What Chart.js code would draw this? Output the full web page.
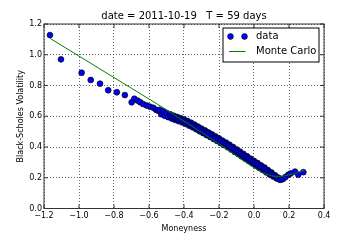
<!DOCTYPE html>
<html>
<head>
<meta charset="utf-8">
<script src="https://cdn.jsdelivr.net/npm/chart.js@4.4.0/dist/chart.umd.min.js"></script>
<style>
  html, body { margin: 0; padding: 0; background: #fff; }
  canvas { display: block; }
</style>
</head>
<body>
<canvas id="smileChart" width="360" height="240"></canvas>
<script>
// Implied vol smile
const titleText = 'date = 2011-10-19   T = 59 days';

const dataX = [
  -1.166, -1.103, -0.985, -0.933, -0.880, -0.833, -0.784, -0.738, -0.699, -0.684,
  -0.665, -0.650, -0.633, -0.613, -0.594, -0.575, -0.560, -0.548,
  -0.54, -0.53, -0.52, -0.51, -0.50, -0.49, -0.48, -0.47, -0.46, -0.45,
  -0.44, -0.43, -0.42, -0.41, -0.40, -0.39, -0.38, -0.37, -0.36, -0.35,
  -0.34, -0.33, -0.32, -0.31, -0.30, -0.29, -0.28, -0.27, -0.26, -0.25,
  -0.24, -0.23, -0.22, -0.21, -0.20, -0.19, -0.18, -0.17, -0.16, -0.15,
  -0.14, -0.13, -0.12, -0.11, -0.10, -0.09, -0.08, -0.07, -0.06, -0.05,
  -0.04, -0.03, -0.02, -0.01, 0.00, 0.01, 0.02, 0.03, 0.04, 0.05,
  0.06, 0.07, 0.08, 0.09, 0.10, 0.11, 0.12, 0.13, 0.14,
  // in-between strikes of the dense part
  -0.475, -0.465, -0.455, -0.445, -0.435, -0.425, -0.415, -0.405,
  -0.395, -0.385, -0.375, -0.365, -0.355, -0.345, -0.335, -0.325, -0.315, -0.305,
  -0.295, -0.285, -0.275, -0.265, -0.255, -0.245, -0.235, -0.225, -0.215, -0.205,
  -0.195, -0.185, -0.175, -0.165, -0.155, -0.145, -0.135, -0.125, -0.115, -0.105,
  -0.095, -0.085, -0.075, -0.065, -0.055, -0.045, -0.035, -0.025, -0.015, -0.005,
  0.005, 0.015, 0.025, 0.035, 0.045, 0.055, 0.065, 0.075, 0.085, 0.095,
  0.105, 0.115, 0.125, 0.135,
  0.149, 0.160, 0.167, 0.180, 0.196, 0.210, 0.234, 0.253, 0.282
];
const dataVol = [
  1.128, 0.970, 0.883, 0.836, 0.812, 0.769, 0.756, 0.738, 0.691, 0.714,
  0.702, 0.691, 0.679, 0.670, 0.662, 0.655, 0.642, 0.636,
  0.642, 0.613, 0.632, 0.603, 0.622, 0.594, 0.613, 0.585, 0.604, 0.576,
  0.596, 0.568, 0.588, 0.560, 0.580, 0.550, 0.569, 0.539, 0.558, 0.528,
  0.546, 0.515, 0.533, 0.502, 0.520, 0.490, 0.508, 0.477, 0.495, 0.465,
  0.482, 0.452, 0.469, 0.439, 0.456, 0.425, 0.442, 0.412, 0.429, 0.398,
  0.415, 0.383, 0.400, 0.368, 0.385, 0.354, 0.370, 0.339, 0.355, 0.324,
  0.340, 0.309, 0.325, 0.294, 0.310, 0.279, 0.296, 0.264, 0.281, 0.250,
  0.267, 0.235, 0.250, 0.221, 0.234, 0.208, 0.216, 0.195, 0.200,
  0.599, 0.594, 0.590, 0.586, 0.582, 0.578, 0.574, 0.570,
  0.565, 0.560, 0.554, 0.548, 0.543, 0.537, 0.530, 0.524, 0.518, 0.511,
  0.505, 0.499, 0.492, 0.486, 0.480, 0.474, 0.467, 0.460, 0.454, 0.448,
  0.440, 0.434, 0.427, 0.420, 0.414, 0.406, 0.399, 0.392, 0.384, 0.376,
  0.370, 0.362, 0.354, 0.347, 0.340, 0.332, 0.324, 0.317, 0.310, 0.302,
  0.294, 0.288, 0.280, 0.272, 0.266, 0.258, 0.251, 0.244, 0.236, 0.230,
  0.222, 0.214, 0.206, 0.200,
  0.186, 0.190, 0.193, 0.205, 0.220, 0.228, 0.240, 0.220, 0.236
];

const mcX = [-1.166, -0.700, -0.600, -0.500, -0.400, -0.300, -0.200, -0.100,
  0.000, 0.050, 0.100, 0.140, 0.180, 0.220, 0.260, 0.290];
const mcVol = [1.107, 0.782, 0.712, 0.642, 0.568, 0.495, 0.420, 0.342,
  0.265, 0.232, 0.212, 0.208, 0.213, 0.225, 0.239, 0.250];

const xTickValues = [-1.2, -1.0, -0.8, -0.6, -0.4, -0.2, 0.0, 0.2, 0.4];
const yTickValues = [0.0, 0.2, 0.4, 0.6, 0.8, 1.0, 1.2];

const FONT = "'DejaVu Sans', sans-serif";

function fmtTick(v) {
  let s = v.toFixed(1);
  if (s === '-0.0') s = '0.0';
  return s.replace('-', '\u2212');
}

// matplotlib-style frame, inward ticks on all four sides, title and the legend box
const framePlugin = {
  id: 'frame',
  afterDraw(chart) {
    const c = chart.ctx;
    const a = chart.chartArea;
    const xs = chart.scales.x, ys = chart.scales.y;
    c.save();
    c.strokeStyle = '#333';
    c.lineWidth = 1;
    c.strokeRect(a.left, a.top, a.right - a.left, a.bottom - a.top);
    const tl = 4;
    c.beginPath();
    xTickValues.forEach(v => {
      const px = xs.getPixelForValue(v);
      c.moveTo(px, a.bottom); c.lineTo(px, a.bottom - tl);
      c.moveTo(px, a.top); c.lineTo(px, a.top + tl);
    });
    yTickValues.forEach(v => {
      const py = ys.getPixelForValue(v);
      c.moveTo(a.left, py); c.lineTo(a.left + tl, py);
      c.moveTo(a.right, py); c.lineTo(a.right - tl, py);
    });
    c.stroke();

    // title centred over the axes
    c.fillStyle = '#000';
    c.font = '10px ' + FONT;
    c.textAlign = 'center';
    c.textBaseline = 'middle';
    c.fillText(titleText, (a.left + a.right) / 2, a.top - 8);

    // legend
    const bx = a.right - 101, by = a.top + 4, bw = 96, bh = 34;
    c.fillStyle = '#fff';
    c.fillRect(bx, by, bw, bh);
    c.strokeStyle = '#000';
    c.strokeRect(bx, by, bw, bh);
    const ds = chart.data.datasets;
    const row1 = by + 8.5, row2 = by + 23.5;
    c.fillStyle = '#0000ff';
    c.strokeStyle = '#000';
    c.lineWidth = 0.6;
    [bx + 7.5, bx + 21.5].forEach(mx => {
      c.beginPath();
      c.arc(mx, row1, 2.9, 0, Math.PI * 2);
      c.fill(); c.stroke();
    });
    c.strokeStyle = '#008000';
    c.lineWidth = 1;
    c.beginPath();
    c.moveTo(bx + 6, row2); c.lineTo(bx + 22.5, row2);
    c.stroke();
    c.fillStyle = '#000';
    c.font = '10px ' + FONT;
    c.textBaseline = 'middle';
    c.textAlign = 'left';
    c.fillText(ds[0].label, bx + 33, row1);
    c.fillText(ds[1].label, bx + 33, row2);
    c.restore();
  }
};

new Chart(document.getElementById('smileChart'), {
  type: 'scatter',
  data: {
    datasets: [{
      label: 'data',
      order: 2,
      data: dataX.map((x, i) => ({ x: x, y: dataVol[i] })),
      showLine: false,
      pointRadius: 2.9,
      pointBackgroundColor: '#0000ff',
      pointBorderColor: '#000',
      pointBorderWidth: 0.7
    }, {
      label: 'Monte Carlo',
      order: 1,
      data: mcX.map((x, i) => ({ x: x, y: mcVol[i] })),
      showLine: true,
      borderColor: '#008000',
      borderWidth: 1,
      pointRadius: 0,
      tension: 0
    }]
  },
  options: {
    responsive: false,
    animation: false,
    devicePixelRatio: 1,
    layout: { padding: { left: 0, right: 36, top: 24, bottom: 0 } },
    plugins: {
      legend: { display: false },
      tooltip: { enabled: false },
      title: { display: false }
    },
    scales: {
      x: {
        type: 'linear',
        min: -1.2,
        max: 0.4,
        afterFit: s => { s.height = 31.5; },
        afterBuildTicks: s => { s.ticks = xTickValues.map(v => ({ value: v })); },
        ticks: {
          color: '#000',
          font: { family: FONT, size: 8 },
          padding: 3,
          maxRotation: 0,
          autoSkip: false,
          callback: v => fmtTick(v)
        },
        grid: { color: 'rgba(0,0,0,0.6)', lineWidth: 1, drawTicks: false },
        border: { display: false, dash: [1, 2] },
        title: {
          display: true,
          text: 'Moneyness',
          color: '#000',
          font: { family: FONT, size: 8, lineHeight: 1.2 },
          padding: { top: 0, bottom: 6 }
        }
      },
      y: {
        type: 'linear',
        min: 0,
        max: 1.2,
        afterFit: s => { s.width = 44; },
        afterBuildTicks: s => { s.ticks = yTickValues.map(v => ({ value: v })); },
        ticks: {
          color: '#000',
          font: { family: FONT, size: 8 },
          padding: 2,
          autoSkip: false,
          callback: v => fmtTick(v)
        },
        grid: { color: 'rgba(0,0,0,0.6)', lineWidth: 1, drawTicks: false },
        border: { display: false, dash: [1, 2] },
        title: {
          display: true,
          text: 'Black-Scholes Volatility',
          color: '#000',
          font: { family: FONT, size: 8, lineHeight: 1.2 },
          padding: { top: 16, bottom: 0 }
        }
      }
    }
  },
  plugins: [framePlugin]
});
</script>
</body>
</html>
